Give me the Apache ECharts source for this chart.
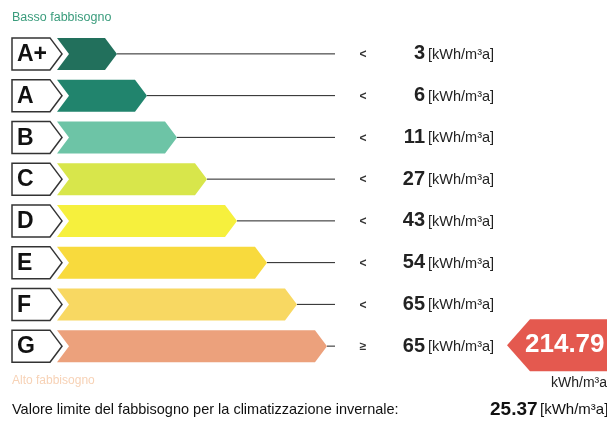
<!DOCTYPE html>
<html lang="it">
<head>
  <meta charset="UTF-8">
  <title>Classe energetica</title>
  <script src="https://cdn.jsdelivr.net/npm/echarts@6/dist/echarts.min.js"></script>
  <style>
    * { margin: 0; padding: 0; }
    body { background: #fff; }
    #main { width: 607px; height: 423px; }
  </style>
</head>
<body>
  <div id="main"></div>
  <script>
    // classi energetiche e limiti superiori
    var classes = ['A+', 'A', 'B', 'C', 'D', 'E', 'F', 'G'];
    var steps = [1, 2, 3, 4, 5, 6, 7, 8];          // lunghezza della freccia, in passi di classe
    var limits = [3, 6, 11, 27, 43, 54, 65, 65];
    var signs = ['<', '<', '<', '<', '<', '<', '<', '≥'];
    var currentClass = 'G';
    var currentValue = 214.79;
    var limitValue = 25.37;

    var barColors = ['#22705c', '#21846d', '#6dc4a6', '#d8e64b', '#f6f03d', '#f8da3d', '#f8d862', '#eca17c'];
    var FONT = '"Liberation Sans", Arial, sans-serif';

    function renderRow(params, api) {
      var i = api.value(1);
      var p = api.coord([api.value(0), i]);
      var tip = p[0], mid = p[1];
      var h = 16;
      var children = [
        // box lettera
        { type: 'polygon', shape: { points: [[12, mid - h], [50, mid - h], [62, mid], [50, mid + h], [12, mid + h]] },
          style: { fill: '#fff', stroke: '#333', lineWidth: 1.5 } },
        { type: 'text', x: 17, y: mid + 1, style: { text: classes[i], fill: '#111', font: 'bold 23px ' + FONT, textVerticalAlign: 'middle' } },
        // freccia colorata
        { type: 'polygon', shape: { points: [[57, mid - h], [tip - 12, mid - h], [tip, mid], [tip - 12, mid + h], [57, mid + h], [69, mid]] },
          style: { fill: barColors[i] } },
        { type: 'line', shape: { x1: tip, y1: mid, x2: 335, y2: mid }, style: { stroke: '#222', lineWidth: 1 } },
        { type: 'text', x: 363, y: mid + 1, style: { text: signs[i], fill: '#333', font: 'bold 12px ' + FONT, textAlign: 'center', textVerticalAlign: 'middle' } },
        { type: 'text', x: 425, y: mid, style: { text: String(limits[i]), fill: '#222', font: 'bold 20px ' + FONT, textAlign: 'right', textVerticalAlign: 'middle' } },
        { type: 'text', x: 428, y: mid + 1, style: { text: '[kWh/m³a]', fill: '#222', font: '14.5px ' + FONT, textVerticalAlign: 'middle' } }
      ];
      if (classes[i] === currentClass) {
        children.push(
          { type: 'polygon', shape: { points: [[507, mid - 1], [530, mid - 27], [620, mid - 27], [620, mid + 25], [530, mid + 25]] },
            style: { fill: '#e4594f' } },
          { type: 'text', x: 525, y: mid - 1, style: { text: currentValue.toFixed(2), fill: '#fff', font: 'bold 26px ' + FONT, textVerticalAlign: 'middle' } }
        );
      }
      return { type: 'group', children: children };
    }

    var chart = echarts.init(document.getElementById('main'));
    chart.setOption({
      animation: false,
      grid: { left: 27, right: 70, top: 33, bottom: 56 },
      xAxis: { type: 'value', min: -2, max: 15, show: false },
      yAxis: { type: 'category', data: classes, inverse: true, show: false },
      series: [{
        type: 'custom',
        renderItem: renderRow,
        data: classes.map(function (c, i) { return [steps[i], i]; })
      }],
      graphic: [
        { type: 'text', left: 12, top: 11, style: { text: 'Basso fabbisogno', fill: '#3a9c7c', font: '12.5px ' + FONT } },
        { type: 'text', left: 12, top: 375, style: { text: 'Alto fabbisogno', fill: '#f7d2b6', font: '12px ' + FONT } },
        { type: 'text', right: 0, top: 376, style: { text: 'kWh/m³a', fill: '#222', font: '14px ' + FONT } },
        { type: 'text', left: 12, top: 402, style: { text: 'Valore limite del fabbisogno per la climatizzazione invernale:', fill: '#111', font: '14.5px ' + FONT } },
        { type: 'text', left: 490, top: 400, style: { text: limitValue.toFixed(2), fill: '#111', font: 'bold 19px ' + FONT } },
        { type: 'text', left: 540, top: 402, style: { text: '[kWh/m³a]', fill: '#111', font: '15px ' + FONT } }
      ]
    });
  </script>
</body>
</html>
